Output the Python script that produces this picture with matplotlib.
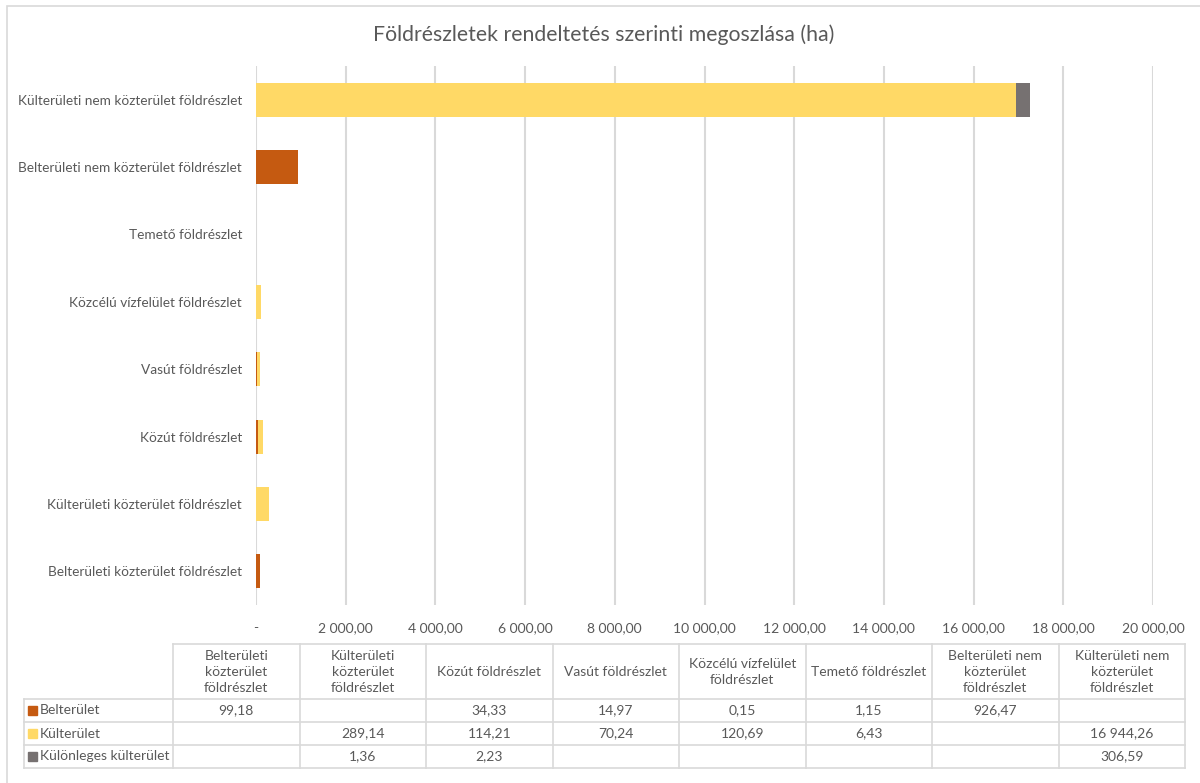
import matplotlib
matplotlib.use("Agg")
import matplotlib.pyplot as plt
from matplotlib.lines import Line2D
from matplotlib.patches import Rectangle
import numpy as np

plt.rcParams['font.family'] = ['Lato', 'DejaVu Sans']

categories = [
    "Belterületi közterület földrészlet",
    "Külterületi közterület földrészlet",
    "Közút földrészlet",
    "Vasút földrészlet",
    "Közcélú vízfelület földrészlet",
    "Temető földrészlet",
    "Belterületi nem közterület földrészlet",
    "Külterületi nem közterület földrészlet",
]
table_headers = [
    "Belterületi\nközterület\nföldrészlet",
    "Külterületi\nközterület\nföldrészlet",
    "Közút földrészlet",
    "Vasút földrészlet",
    "Közcélú vízfelület\nföldrészlet",
    "Temető földrészlet",
    "Belterületi nem\nközterület\nföldrészlet",
    "Külterületi nem\nközterület\nföldrészlet",
]
series_names = ["Belterület", "Külterület", "Különleges külterület"]
belterulet = [99.18, None, 34.33, 14.97, 0.15, 1.15, 926.47, None]
kulterulet = [None, 289.14, 114.21, 70.24, 120.69, 6.43, None, 16944.26]
kulonleges = [None, 1.36, 2.23, None, None, None, None, 306.59]
colors = ["#C55A11", "#FFD966", "#767171"]
xticks = list(range(0, 20001, 2000))

title = "Földrészletek rendeltetés szerinti megoszlása (ha)"
txtc = "#595959"
gridc = "#D9D9D9"

W, H = 1200, 783
fig = plt.figure(figsize=(W / 100, H / 100), dpi=100)

def fx(px):
    return px / W

def fy(py):
    return 1 - py / H

# chart border (left and top visible, right/bottom beyond image)
fig.patches.append(Rectangle((fx(7), fy(800)), fx(1200), (800 - 6) / H,
                             transform=fig.transFigure, fill=False,
                             edgecolor=gridc, lw=1.2))

ax_l, ax_r, ax_t, ax_b = 256, 1153, 66, 605
ax = fig.add_axes([fx(ax_l), fy(ax_b), fx(ax_r - ax_l), (ax_b - ax_t) / H])

y = np.arange(len(categories))
series = [belterulet, kulterulet, kulonleges]
left = np.zeros(len(categories))
for vals, c, n in zip(series, colors, series_names):
    v = np.array([0 if x is None else x for x in vals], dtype=float)
    ax.barh(y, v, left=left, height=0.505, color=c, label=n, zorder=3)
    left += v

ax.set_xlim(0, 20000)
ax.set_ylim(-0.5, len(categories) - 0.5)
ax.set_xticks(xticks)

def fmt(v):
    if v == 0:
        return "-"
    s = f"{v:,.2f}"
    return s.replace(",", " ").replace(".", ",")

ax.set_xticklabels([fmt(t) for t in xticks])
ax.set_yticks(y)
ax.set_yticklabels(categories)
ax.tick_params(axis='both', length=0, colors=txtc, labelsize=10)
ax.tick_params(axis='y', labelsize=9.8, pad=10)
ax.tick_params(axis='x', pad=12)
ax.grid(axis='x', color=gridc, lw=1.5, zorder=0)
for s in ax.spines.values():
    s.set_visible(False)
ax.set_axisbelow(True)

fig.text(fx(604), fy(35), title, ha='center', va='center', fontsize=15.3, color=txtc)

# data table
col_l = 173
col_r = 1185
ncol = len(categories)
cw = (col_r - col_l) / ncol
row_hdr_l = 24
hdr_t, hdr_b = 644, 699
row_h = 23
row_edges = [hdr_b + i * row_h for i in range(len(series) + 1)]

def hline(x0, x1, yy):
    fig.add_artist(Line2D([fx(x0), fx(x1)], [fy(yy), fy(yy)], color=gridc, lw=1.2,
                          transform=fig.transFigure))

def vline(xx, y0, y1):
    fig.add_artist(Line2D([fx(xx), fx(xx)], [fy(y0), fy(y1)], color=gridc, lw=1.2,
                          transform=fig.transFigure))

hline(col_l, col_r, hdr_t)
for ry in row_edges:
    hline(row_hdr_l, col_r, ry)
vline(row_hdr_l, row_edges[0], row_edges[-1])
for i in range(ncol + 1):
    vline(col_l + i * cw, hdr_t, row_edges[-1])

for i, h in enumerate(table_headers):
    fig.text(fx(col_l + (i + 0.5) * cw), fy((hdr_t + hdr_b) / 2 + 0.5), h, ha='center',
             va='center', fontsize=10, color=txtc, linespacing=1.45)

for r, (vals, c, n) in enumerate(zip(series, colors, series_names)):
    cy = (row_edges[r] + row_edges[r + 1]) / 2
    fig.patches.append(Rectangle((fx(row_hdr_l + 4), fy(cy + 4.5)), fx(9), 9 / H,
                                 transform=fig.transFigure, color=c))
    fig.text(fx(row_hdr_l + 16), fy(cy), n, ha='left', va='center', fontsize=10, color=txtc)
    for i, v in enumerate(vals):
        if v is not None:
            fig.text(fx(col_l + (i + 0.5) * cw), fy(cy), fmt(v), ha='center', va='center',
                     fontsize=10, color=txtc)

fig.savefig("out.png", dpi=100)
